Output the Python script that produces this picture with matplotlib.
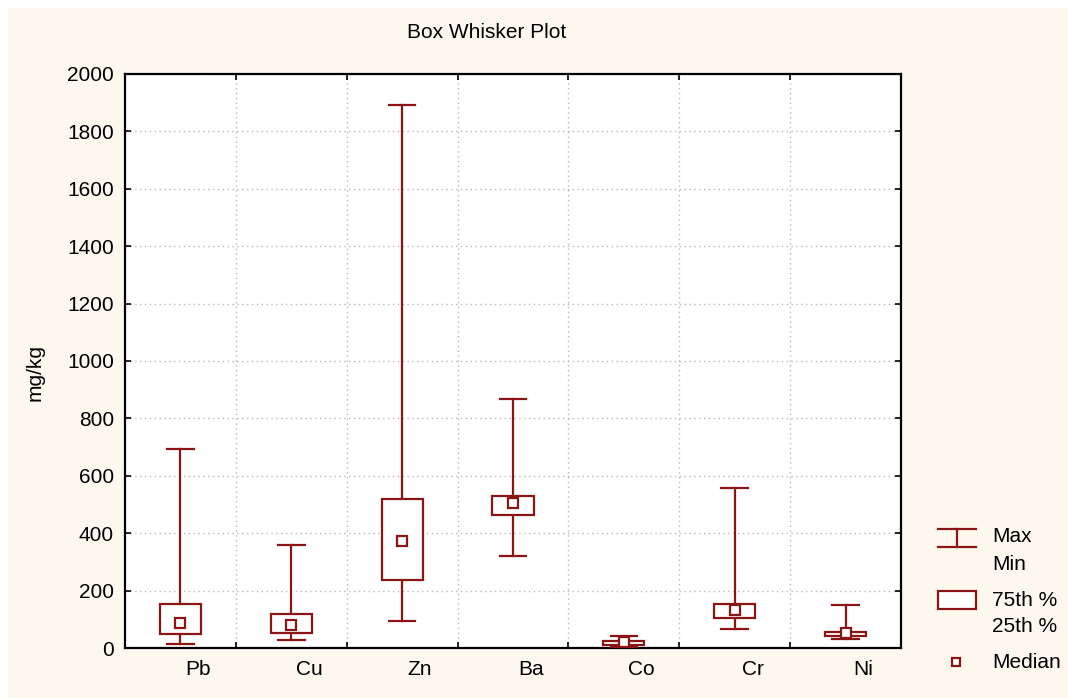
import matplotlib
matplotlib.use("Agg")
import matplotlib.pyplot as plt
from matplotlib.patches import Rectangle
from matplotlib.lines import Line2D

plt.rcParams['font.family'] = ['Liberation Sans', 'DejaVu Sans']

cats = ['Pb', 'Cu', 'Zn', 'Ba', 'Co', 'Cr', 'Ni']
mins = [15, 27, 95, 321, 5, 65, 30]
q1 = [48, 53, 236, 465, 10, 104, 42]
med = [86, 79, 374, 504, 20, 132, 51]
q3 = [154, 119, 518, 530, 25, 153, 55]
maxs = [693, 358, 1892, 868, 42, 559, 151]
yticks = list(range(0, 2001, 200))

red = '#8b1515'
W, H = 1068, 698
fs = 15

fig = plt.figure(figsize=(W / 100, H / 100), dpi=100, facecolor='white')
# cream panel behind everything
fig.patches.append(Rectangle((8 / W, 0), 1 - 8 / W, 1 - 8 / H, transform=fig.transFigure,
                             facecolor='#fdf8ee', edgecolor='none', zorder=-10))

ax = fig.add_axes([125 / W, 50 / H, 776 / W, 574 / H])
ax.set_facecolor('white')
ax.set_xlim(0, len(cats))
ax.set_ylim(0, 2000)
ax.set_yticks(yticks)
ax.set_yticklabels([str(v) for v in yticks], fontsize=fs)
ax.set_xticks(range(1, len(cats)))
ax.set_xticklabels([])
ax.tick_params(direction='in', length=4, width=1.2, top=True, right=True, pad=8)
ax.grid(True, color='#b8b8b8', linestyle=(0, (1, 2.5)), linewidth=1)
for s in ax.spines.values():
    s.set_linewidth(1.6)

bw, cw = 0.37, 0.24
for i in range(len(cats)):
    x = i + 0.5
    ax.plot([x, x], [mins[i], q1[i]], color=red, lw=1.6, zorder=3)
    ax.plot([x, x], [q3[i], maxs[i]], color=red, lw=1.6, zorder=3)
    ax.plot([x - cw / 2, x + cw / 2], [mins[i], mins[i]], color=red, lw=1.6, zorder=3)
    ax.plot([x - cw / 2, x + cw / 2], [maxs[i], maxs[i]], color=red, lw=1.6, zorder=3)
    ax.add_patch(Rectangle((x - bw / 2, q1[i]), bw, q3[i] - q1[i], facecolor='white',
                           edgecolor=red, lw=1.6, zorder=4))
    ax.plot(x, med[i], marker='s', ms=6.5, mfc='white', mec=red, mew=1.6, zorder=5)
    ax.text(x + 0.16, -0.037, cats[i], transform=ax.get_xaxis_transform(),
            ha='center', va='center', fontsize=fs)

fig.text(487 / W, 1 - 33 / H, 'Box Whisker Plot', ha='center', va='center', fontsize=fs)
fig.text(35 / W, 1 - 372 / H, 'mg/kg', ha='center', va='center', rotation=90, fontsize=fs)

# legend
def fx(px):
    return px / W

def fy(py):
    return 1 - py / H

tf = fig.transFigure
for yy in (529, 547):
    fig.add_artist(Line2D([fx(938), fx(976)], [fy(yy), fy(yy)], color=red, lw=1.6, transform=tf))
fig.add_artist(Line2D([fx(957), fx(957)], [fy(529), fy(547)], color=red, lw=1.6, transform=tf))
fig.add_artist(Rectangle((fx(938), fy(609)), fx(976) - fx(938), fy(591) - fy(609), facecolor='white',
                         edgecolor=red, lw=1.6, transform=tf))
fig.add_artist(Line2D([fx(956)], [fy(662)], marker='s', ms=6, mfc='white', mec=red, mew=1.6,
                      transform=tf))
for txt, yy in [('Max', 537), ('Min', 565), ('75th %', 601), ('25th %', 626), ('Median', 662)]:
    fig.text(fx(992), fy(yy), txt, ha='left', va='center', fontsize=fs)

fig.savefig('out.png', dpi=100, facecolor=fig.get_facecolor())
